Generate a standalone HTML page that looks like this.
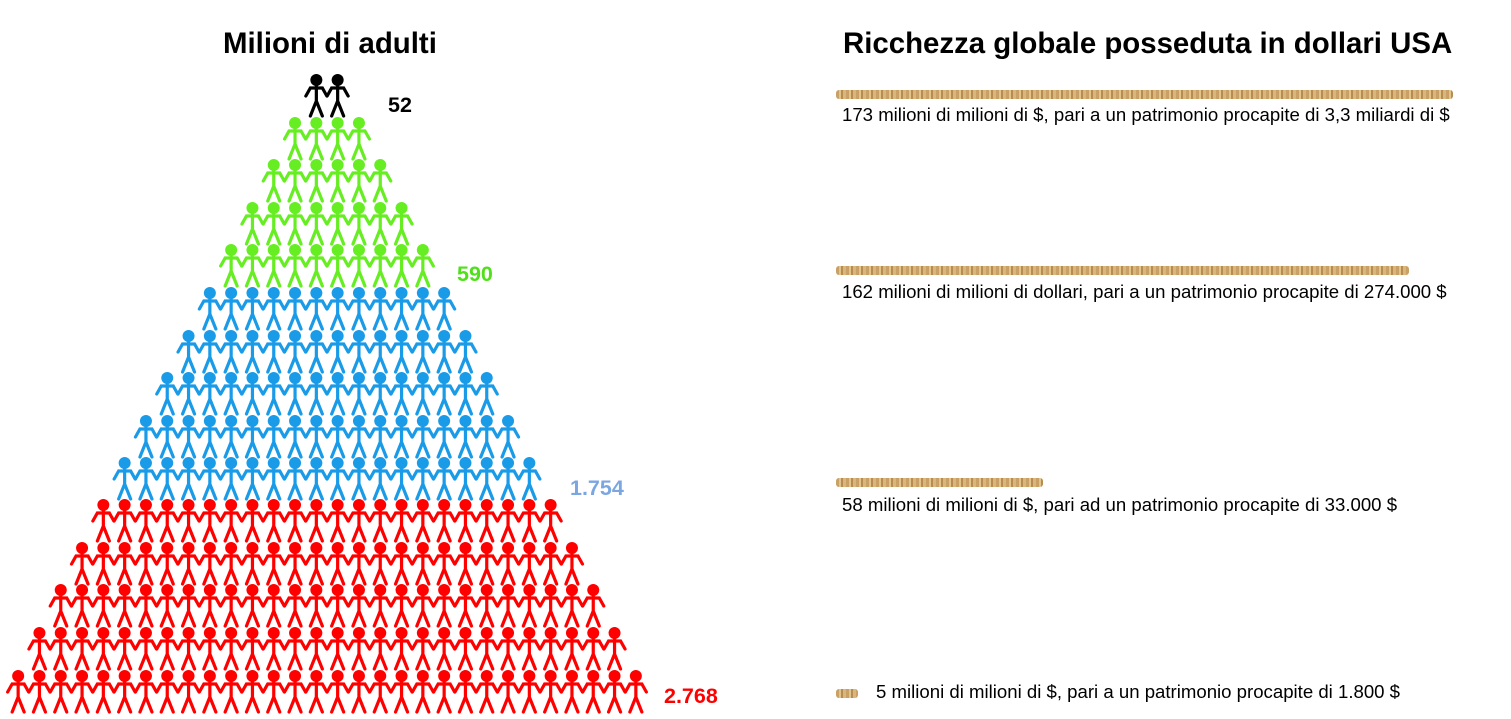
<!DOCTYPE html>
<html><head><meta charset="utf-8"><style>
body{margin:0;width:1511px;height:719px;background:#fff;overflow:hidden;position:relative;font-family:"Liberation Sans",sans-serif}
.t{position:absolute;font-weight:bold;font-size:29.4px;color:#000;white-space:nowrap}
.n{position:absolute;font-weight:bold;font-size:21.5px;white-space:nowrap}
.bar{position:absolute;height:9px;border-radius:3px;background:repeating-linear-gradient(90deg,#c9a066 0 3px,#e2c48f 3px 5px,#b88c50 5px 7px,#d8b67c 7px 10px)}
.tx{position:absolute;font-size:18.6px;white-space:nowrap;color:#000}
</style></head><body>
<div class="t" style="left:223px;top:27px">Milioni di adulti</div>
<div class="t" style="left:843px;top:27px">Ricchezza globale posseduta in dollari USA</div>
<svg id="s" width="720" height="719" style="position:absolute;left:0;top:0"></svg>
<div class="n" style="left:388px;top:93px;color:#000">52</div>
<div class="n" style="left:457px;top:262px;color:#4fe01a">590</div>
<div class="n" style="left:570px;top:476px;color:#7aa6e2">1.754</div>
<div class="n" style="left:664px;top:684px;color:#f00">2.768</div>
<div class="bar" style="left:836px;top:90px;width:617px"></div>
<div class="tx" style="left:842px;top:104px">173 milioni di milioni di $, pari a un patrimonio procapite di 3,3 miliardi di $</div>
<div class="bar" style="left:836px;top:266px;width:573px"></div>
<div class="tx" style="left:842px;top:281px">162 milioni di milioni di dollari, pari a un patrimonio procapite di 274.000 $</div>
<div class="bar" style="left:836px;top:478px;width:207px"></div>
<div class="tx" style="left:842px;top:494px">58 milioni di milioni di $, pari ad un patrimonio procapite di 33.000 $</div>
<div class="bar" style="left:836px;top:689px;width:22px"></div>
<div class="tx" style="left:876px;top:681px">5 milioni di milioni di $, pari a un patrimonio procapite di 1.800 $</div>
<script>
var s=document.getElementById('s'),h='';
function fig(x,y,c){
h+='<g stroke="'+c+'" stroke-width="3.2" fill="none" stroke-linecap="round"><circle cx="'+x+'" cy="'+y+'" r="6" fill="'+c+'" stroke="none"/>'+
'<path d="M'+x+' '+(y+4)+'V'+(y+21)+'L'+(x-6)+' '+(y+36)+'M'+x+' '+(y+21)+'L'+(x+6)+' '+(y+36)+'M'+(x-10.5)+' '+(y+16)+'L'+(x-6)+' '+(y+8)+'H'+(x+6)+'L'+(x+10.5)+' '+(y+16)+'"/></g>';}
var rows=[[2,80,'#000'],[4,123,'#66ee22'],[6,165,'#66ee22'],[8,208,'#66ee22'],[10,250,'#66ee22'],
[12,293,'#1a9be8'],[14,336,'#1a9be8'],[16,378,'#1a9be8'],[18,421,'#1a9be8'],[20,463,'#1a9be8'],
[22,505,'#f00'],[24,548,'#f00'],[26,590,'#f00'],[28,633,'#f00'],[30,676,'#f00']];
rows.forEach(function(r){var n=r[0],st=21.3;for(var i=0;i<n;i++){fig(327+(i-(n-1)/2)*st,r[1],r[2]);}});
s.innerHTML=h;
</script>
</body></html>
